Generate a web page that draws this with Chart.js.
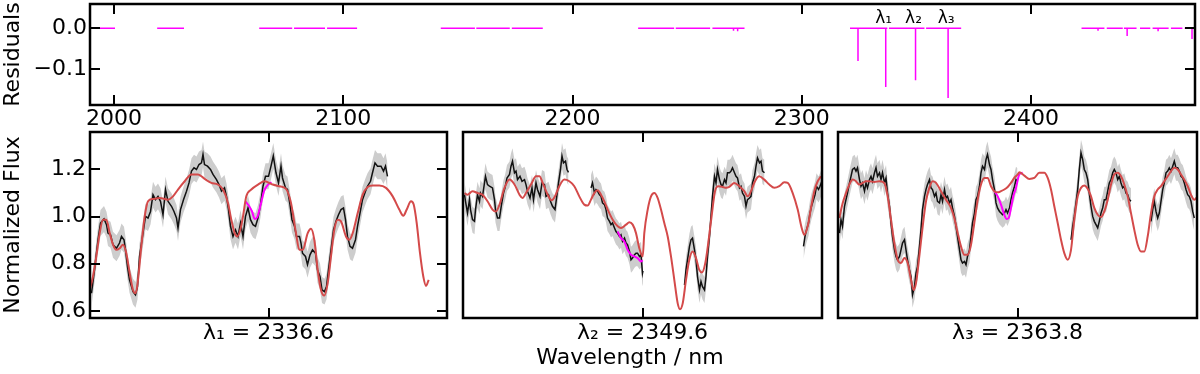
<!DOCTYPE html>
<html><head><meta charset="utf-8">
<script src="https://cdn.jsdelivr.net/npm/chart.js@4.4.1/dist/chart.umd.min.js"></script>
<style>
html,body{margin:0;padding:0;background:#fff;}
#wrap{position:relative;width:1200px;height:374px;overflow:hidden;background:#fff;}
canvas{position:absolute;}
#xl{position:absolute;left:530px;top:345px;width:200px;text-align:center;font-family:"DejaVu Sans";font-size:22px;line-height:24px;color:#000;white-space:nowrap;}
</style></head><body>
<div id="wrap">
<canvas id="cTop" width="1200" height="140" style="left:0;top:0"></canvas>
<canvas id="c1" width="460" height="249" style="left:0;top:125px"></canvas>
<canvas id="c2" width="375" height="249" style="left:455px;top:125px"></canvas>
<canvas id="c3" width="370" height="249" style="left:830px;top:125px"></canvas>
<div id="xl">Wavelength / nm</div>
</div>
<script>
// ---------------- data ----------------
const resTickX = [2000, 2100, 2200, 2300, 2400];
const resTickY = [0.0, -0.1];
const resTickYLabels = ['0.0', '\u22120.1'];
const fluxTickY = [0.6, 0.8, 1.0, 1.2];
const fluxTickYLabels = ['0.6', '0.8', '1.0', '1.2'];
const lineCentres = [2336.6, 2349.6, 2363.8];
const lineNames = ['λ₁', 'λ₂', 'λ₃'];
const panelTitles = ['λ₁ = 2336.6', 'λ₂ = 2349.6', 'λ₃ = 2363.8'];

// residual segments (nm) and spikes [wavelength, residual]
const resSegments = [
  [1989.5, 2000.4], [2018.8, 2030.5], [2063.3, 2077.7], [2078.5, 2092.0], [2092.9, 2106.0],
  [2142.5, 2157.4], [2158.0, 2172.6], [2173.5, 2187.0],
  [2228.6, 2244.3], [2245.0, 2260.0], [2261.0, 2275.0],
  [2321.0, 2337.3], [2338.0, 2353.5], [2354.2, 2369.5],
  [2422.0, 2432.0], [2433.0, 2440.0], [2440.5, 2446.0], [2447.5, 2452.0], [2453.0, 2460.0], [2461.0, 2466.0], [2467.0, 2471.5]
];
const resSpikes = [
  [2270.2, -0.006], [2272.0, -0.007],
  [2324.5, -0.080], [2336.6, -0.144], [2349.6, -0.127], [2363.8, -0.171],
  [2429.2, -0.006], [2441.9, -0.019], [2455.4, -0.007], [2470.2, -0.026]
];

// panel x values: offset from line centre (nm)
const fluxErr = [0.055, 0.055, 0.055];

const fluxObs1 = [[-1.77,0.675],[-1.74,0.774],[-1.705,0.902],[-1.68,0.973],[-1.645,0.990],[-1.62,0.966],[-1.605,0.930],[-1.58,0.923],[-1.555,0.881],[-1.52,0.866],[-1.49,0.888],[-1.47,0.916],[-1.445,0.902],[-1.43,0.859],[-1.41,0.788],[-1.39,0.732],[-1.355,0.682],[-1.33,0.668],[-1.31,0.703],[-1.29,0.831],[-1.26,0.916],[-1.23,1.001],[-1.205,0.994],[-1.18,1.022],[-1.155,1.093],[-1.13,1.072],[-1.105,1.086],[-1.08,1.065],[-1.055,1.008],[-1.03,1.115],[-1.005,1.065],[-0.97,1.044],[-0.945,1.022],[-0.92,0.994],[-0.905,0.952],[-0.88,1.030],[-0.85,1.072],[-0.82,1.108],[-0.795,1.143],[-0.77,1.193],[-0.745,1.207],[-0.72,1.200],[-0.695,1.221],[-0.67,1.228],[-0.655,1.264],[-0.64,1.221],[-0.61,1.214],[-0.58,1.200],[-0.555,1.179],[-0.52,1.157],[-0.495,1.136],[-0.47,1.108],[-0.44,1.122],[-0.42,1.086],[-0.40,1.030],[-0.38,0.959],[-0.355,0.916],[-0.33,0.944],[-0.305,0.916],[-0.28,0.973],[-0.255,0.916],[-0.23,1.001],[-0.205,1.037],[-0.18,0.987],[-0.155,0.966],[-0.13,0.959],[-0.105,0.994],[-0.08,1.051],[-0.055,1.129],[-0.03,1.171],[0.0,1.171],[0.025,1.214],[0.048,1.257],[0.075,1.186],[0.10,1.143],[0.125,1.214],[0.14,1.164],[0.17,1.122],[0.19,1.115],[0.215,1.051],[0.235,0.987],[0.26,0.959],[0.28,0.916],[0.31,0.916],[0.325,0.888],[0.34,0.845],[0.37,0.831],[0.39,0.796],[0.415,0.838],[0.44,0.859],[0.47,0.845],[0.49,0.774],[0.515,0.746],[0.535,0.689],[0.56,0.682],[0.58,0.703],[0.60,0.774],[0.625,0.859],[0.65,0.944],[0.675,0.980],[0.70,1.008],[0.725,1.030],[0.75,1.037],[0.77,0.987],[0.79,0.916],[0.815,0.874],[0.84,0.866],[0.87,0.902],[0.89,0.959],[0.915,1.015],[0.94,1.072],[0.97,1.108],[0.99,1.129],[1.02,1.150],[1.04,1.186],[1.065,1.228],[1.09,1.214],[1.125,1.214],[1.15,1.193],[1.17,1.214],[1.19,1.171]];
const fluxModel1 = [[-1.788,0.689],[-1.755,0.746],[-1.722,0.831],[-1.688,0.930],[-1.655,0.987],[-1.622,0.987],[-1.588,0.930],[-1.555,0.881],[-1.522,0.859],[-1.488,0.866],[-1.455,0.881],[-1.422,0.845],[-1.388,0.760],[-1.355,0.689],[-1.328,0.675],[-1.305,0.732],[-1.272,0.874],[-1.238,1.001],[-1.205,1.065],[-1.155,1.075],[-1.088,1.079],[-1.005,1.072],[-0.955,1.086],[-0.905,1.115],[-0.838,1.150],[-0.772,1.179],[-0.705,1.179],[-0.638,1.160],[-0.572,1.143],[-0.505,1.136],[-0.455,1.115],[-0.405,1.058],[-0.372,0.987],[-0.338,0.930],[-0.312,0.916],[-0.282,0.944],[-0.255,1.001],[-0.222,1.086],[-0.172,1.115],[-0.105,1.136],[-0.038,1.150],[0.042,1.136],[0.108,1.129],[0.175,1.118],[0.225,1.058],[0.275,0.930],[0.308,0.859],[0.342,0.859],[0.392,0.930],[0.425,0.949],[0.458,0.902],[0.492,0.774],[0.525,0.689],[0.558,0.665],[0.592,0.718],[0.625,0.831],[0.658,0.944],[0.692,0.987],[0.725,0.980],[0.775,0.916],[0.808,0.902],[0.842,0.930],[0.892,1.015],[0.942,1.093],[0.992,1.126],[1.042,1.132],[1.108,1.132],[1.175,1.122],[1.242,1.086],[1.308,1.030],[1.348,1.004],[1.382,1.030],[1.425,1.065],[1.452,1.051],[1.482,0.973],[1.515,0.845],[1.548,0.746],[1.575,0.706],[1.602,0.732]];
const fluxFit1 = [[-0.232,1.065],[-0.198,1.047],[-0.165,1.022],[-0.138,0.990],[-0.112,0.998],[-0.078,1.051],[-0.045,1.108],[-0.005,1.136],[0.03,1.146]];

const fluxObs2 = [[-1.78,1.093],[-1.77,1.065],[-1.75,1.015],[-1.73,1.072],[-1.72,1.030],[-1.70,0.987],[-1.68,0.980],[-1.67,1.030],[-1.65,1.093],[-1.63,1.065],[-1.62,1.100],[-1.60,1.086],[-1.58,1.143],[-1.57,1.171],[-1.55,1.136],[-1.53,1.129],[-1.50,1.122],[-1.48,1.072],[-1.47,1.030],[-1.45,0.994],[-1.43,0.994],[-1.41,1.051],[-1.39,1.100],[-1.375,1.122],[-1.355,1.164],[-1.33,1.179],[-1.315,1.214],[-1.30,1.235],[-1.28,1.186],[-1.265,1.193],[-1.25,1.157],[-1.225,1.171],[-1.205,1.150],[-1.18,1.157],[-1.165,1.136],[-1.15,1.108],[-1.125,1.079],[-1.105,1.122],[-1.09,1.072],[-1.065,1.143],[-1.05,1.115],[-1.025,1.086],[-1.005,1.143],[-0.98,1.136],[-0.965,1.086],[-0.94,1.093],[-0.92,1.065],[-0.90,1.044],[-0.875,1.030],[-0.855,1.093],[-0.84,1.143],[-0.82,1.200],[-0.805,1.257],[-0.79,1.228],[-0.77,1.235],[-0.755,1.200],[-0.74,1.188],null,
  [-0.515,1.122],[-0.50,1.143],[-0.48,1.100],[-0.465,1.115],[-0.45,1.108],[-0.43,1.093],[-0.415,1.086],[-0.40,1.058],[-0.38,1.051],[-0.365,1.030],[-0.35,0.994],[-0.33,0.980],[-0.315,0.966],[-0.30,0.973],[-0.28,0.952],[-0.265,0.937],[-0.25,0.930],[-0.23,0.916],[-0.215,0.923],[-0.20,0.895],[-0.18,0.909],[-0.165,0.888],[-0.15,0.881],[-0.13,0.852],[-0.115,0.817],[-0.10,0.824],[-0.08,0.838],[-0.065,0.845],[-0.05,0.845],[-0.03,0.831],[-0.015,0.838],[0.0,0.760],[0.005,0.770],null,
  [0.42,0.710],[0.435,0.774],[0.45,0.817],[0.47,0.874],[0.485,0.902],[0.50,0.909],[0.52,0.859],[0.535,0.817],[0.55,0.746],[0.57,0.689],[0.585,0.725],[0.60,0.703],[0.62,0.689],[0.635,0.746],[0.65,0.831],[0.67,0.916],[0.685,1.001],[0.70,1.086],[0.72,1.171],[0.735,1.143],[0.75,1.200],[0.77,1.157],[0.785,1.136],[0.80,1.129],[0.82,1.157],[0.835,1.143],[0.85,1.186],[0.87,1.186],[0.885,1.193],[0.90,1.207],[0.92,1.186],[0.935,1.171],[0.95,1.164],[0.97,1.122],[0.985,1.129],[1.00,1.100],[1.02,1.086],[1.035,1.044],[1.05,1.072],[1.07,1.079],[1.085,1.086],[1.10,1.143],[1.12,1.171],[1.135,1.214],[1.15,1.249],[1.17,1.228],[1.185,1.235],[1.20,1.193],[1.22,1.186],null,
  [1.61,0.874],[1.625,0.916],[1.64,0.944],[1.66,0.973],[1.675,1.015],[1.69,1.044],[1.71,1.072],[1.725,1.093],[1.74,1.129],[1.76,1.115],[1.775,1.129],[1.80,1.157]];
const fluxModel2 = [[-1.78,1.100],[-1.75,1.093],[-1.70,1.108],[-1.65,1.100],[-1.60,1.093],[-1.55,1.065],[-1.50,1.030],[-1.465,1.022],[-1.43,1.051],[-1.38,1.122],[-1.33,1.157],[-1.28,1.136],[-1.23,1.093],[-1.20,1.079],[-1.165,1.100],[-1.115,1.136],[-1.065,1.171],[-1.03,1.171],[-0.998,1.143],[-0.948,1.093],[-0.908,1.069],[-0.875,1.086],[-0.832,1.129],[-0.782,1.157],[-0.732,1.150],[-0.682,1.129],[-0.632,1.086],[-0.582,1.051],[-0.548,1.047],[-0.515,1.072],[-0.482,1.100],[-0.448,1.112],[-0.415,1.093],[-0.382,1.065],[-0.348,1.030],[-0.298,0.987],[-0.248,0.959],[-0.215,0.952],[-0.165,0.966],[-0.132,0.976],[-0.098,0.966],[-0.065,0.930],[-0.032,0.866],[0.002,0.831],[0.018,0.930],[0.052,1.030],[0.085,1.086],[0.118,1.100],[0.152,1.079],[0.185,1.030],[0.218,0.973],[0.252,0.916],[0.285,0.831],[0.318,0.732],[0.352,0.632],[0.375,0.607],[0.402,0.632],[0.435,0.732],[0.468,0.817],[0.502,0.852],[0.535,0.824],[0.568,0.774],[0.595,0.763],[0.628,0.803],[0.662,0.902],[0.695,1.015],[0.725,1.108],[0.758,1.129],[0.802,1.126],[0.835,1.122],[0.868,1.126],[0.918,1.143],[0.968,1.129],[1.018,1.108],[1.052,1.086],[1.085,1.108],[1.125,1.150],[1.168,1.171],[1.218,1.157],[1.268,1.136],[1.318,1.122],[1.368,1.129],[1.418,1.146],[1.452,1.143],[1.502,1.100],[1.552,1.030],[1.592,0.952],[1.618,0.923],[1.652,0.959],[1.685,1.037],[1.718,1.108],[1.752,1.150],[1.785,1.171]];
const fluxFit2 = [[-0.248,0.937],[-0.215,0.909],[-0.182,0.895],[-0.148,0.859],[-0.115,0.838],[-0.082,0.831],[-0.048,0.824],[-0.015,0.810],[0.002,0.815]];

const fluxObs3 = [[-1.78,0.930],[-1.765,0.987],[-1.75,0.959],[-1.73,1.044],[-1.715,1.072],[-1.70,1.100],[-1.68,1.143],[-1.665,1.171],[-1.65,1.200],[-1.63,1.207],[-1.615,1.193],[-1.60,1.207],[-1.58,1.157],[-1.565,1.129],[-1.55,1.143],[-1.53,1.108],[-1.515,1.143],[-1.50,1.122],[-1.48,1.157],[-1.465,1.171],[-1.45,1.150],[-1.43,1.186],[-1.415,1.207],[-1.40,1.171],[-1.38,1.186],[-1.365,1.157],[-1.35,1.186],[-1.33,1.143],[-1.315,1.164],[-1.30,1.100],[-1.28,1.044],[-1.265,0.973],[-1.25,0.916],[-1.23,0.859],[-1.215,0.831],[-1.20,0.817],[-1.18,0.831],[-1.165,0.859],[-1.15,0.888],[-1.13,0.902],[-1.115,0.859],[-1.10,0.817],[-1.08,0.774],[-1.065,0.746],[-1.05,0.668],[-1.03,0.703],[-1.015,0.760],[-1.00,0.788],[-0.98,0.874],[-0.965,0.944],[-0.95,1.030],[-0.93,1.086],[-0.915,1.115],[-0.90,1.136],[-0.88,1.157],[-0.865,1.122],[-0.85,1.115],[-0.83,1.086],[-0.815,1.100],[-0.80,1.065],[-0.78,1.058],[-0.765,1.093],[-0.75,1.065],[-0.73,1.115],[-0.715,1.079],[-0.70,1.086],[-0.68,1.058],[-0.665,1.072],[-0.65,1.037],[-0.63,1.001],[-0.615,0.959],[-0.60,0.916],[-0.58,0.859],[-0.565,0.817],[-0.55,0.803],[-0.53,0.810],[-0.515,0.796],[-0.50,0.831],[-0.48,0.859],[-0.465,0.916],[-0.45,0.973],[-0.43,1.015],[-0.415,1.072],[-0.40,1.086],[-0.38,1.129],[-0.365,1.186],[-0.35,1.214],[-0.33,1.200],[-0.315,1.242],[-0.30,1.264],[-0.28,1.221],[-0.265,1.200],[-0.25,1.157],[-0.23,1.115],[-0.215,1.058],[-0.20,1.037],[-0.18,1.022],[-0.165,1.015],[-0.15,1.008],[-0.13,1.015],[-0.115,1.030],[-0.10,1.015],[-0.08,1.037],[-0.065,1.072],[-0.05,1.100],[-0.03,1.129],[-0.015,1.157],[0.0,1.150],null,
  [0.535,0.902],[0.552,0.959],[0.568,1.001],[0.585,1.058],[0.602,1.115],[0.618,1.200],[0.635,1.271],[0.652,1.242],[0.668,1.200],[0.685,1.186],[0.702,1.157],[0.718,1.100],[0.735,1.044],[0.752,1.001],[0.768,0.980],[0.785,0.966],[0.802,0.952],[0.818,0.980],[0.835,1.015],[0.852,1.037],[0.868,1.072],[0.885,1.072],[0.902,1.108],[0.918,1.143],[0.935,1.157],[0.952,1.186],[0.968,1.200],[0.985,1.186],[1.002,1.157],[1.018,1.171],[1.035,1.143],[1.052,1.122],[1.068,1.129],[1.085,1.100],[1.102,1.093],[1.118,1.072],[1.135,1.065],null,
  [1.335,0.980],[1.352,1.030],[1.368,1.065],[1.385,1.022],[1.402,0.994],[1.418,1.015],[1.435,1.065],[1.452,1.115],[1.468,1.143],[1.485,1.186],[1.502,1.193],[1.518,1.207],[1.535,1.193],[1.552,1.214],[1.568,1.235],[1.585,1.207],[1.602,1.207],[1.618,1.193],[1.635,1.171],[1.652,1.164],[1.668,1.143],[1.685,1.115],[1.702,1.093],[1.718,1.086],[1.735,1.065],[1.752,1.022],[1.768,0.994]];
const fluxModel3 = [[-1.782,0.994],[-1.748,1.058],[-1.715,1.100],[-1.682,1.136],[-1.648,1.157],[-1.615,1.150],[-1.582,1.136],[-1.548,1.143],[-1.515,1.150],[-1.482,1.150],[-1.432,1.147],[-1.382,1.150],[-1.332,1.143],[-1.298,1.086],[-1.265,0.987],[-1.232,0.888],[-1.198,0.817],[-1.165,0.803],[-1.132,0.824],[-1.098,0.803],[-1.065,0.732],[-1.038,0.689],[-1.015,0.718],[-0.982,0.831],[-0.948,0.959],[-0.915,1.065],[-0.882,1.122],[-0.848,1.150],[-0.815,1.143],[-0.765,1.108],[-0.715,1.072],[-0.665,1.037],[-0.632,0.994],[-0.598,0.930],[-0.565,0.874],[-0.532,0.838],[-0.498,0.838],[-0.465,0.881],[-0.432,0.973],[-0.398,1.072],[-0.365,1.136],[-0.332,1.164],[-0.298,1.164],[-0.265,1.129],[-0.232,1.108],[-0.198,1.103],[-0.165,1.108],[-0.132,1.115],[-0.098,1.126],[-0.065,1.143],[-0.032,1.164],[0.002,1.179],[0.018,1.188],[0.068,1.174],[0.118,1.160],[0.168,1.164],[0.218,1.186],[0.268,1.186],[0.302,1.164],[0.335,1.115],[0.368,1.044],[0.402,0.973],[0.435,0.902],[0.468,0.845],[0.502,0.817],[0.535,0.859],[0.568,0.987],[0.602,1.086],[0.635,1.122],[0.668,1.132],[0.702,1.118],[0.735,1.086],[0.768,1.037],[0.802,1.008],[0.835,0.998],[0.868,1.022],[0.902,1.072],[0.935,1.136],[0.968,1.179],[1.002,1.186],[1.035,1.171],[1.068,1.136],[1.102,1.086],[1.135,1.015],[1.168,0.944],[1.202,0.881],[1.235,0.852],[1.268,0.852],[1.302,0.916],[1.335,1.015],[1.368,1.086],[1.402,1.115],[1.435,1.129],[1.468,1.150],[1.502,1.171],[1.535,1.193],[1.568,1.207],[1.602,1.200],[1.635,1.179],[1.668,1.157],[1.702,1.129],[1.735,1.093],[1.768,1.072],[1.802,1.086]];
const fluxFit3 = [[-0.232,1.108],[-0.198,1.086],[-0.165,1.051],[-0.132,1.008],[-0.108,0.990],[-0.088,0.994],[-0.065,1.037],[-0.042,1.086],[-0.015,1.122],[0.018,1.179],[0.052,1.186]];

// ---------------- helpers ----------------
Chart.defaults.font.family = '"DejaVu Sans"';
Chart.defaults.color = '#000';
const RED = '#d44a4a', MAG = '#ff00ff', GREY = 'rgb(205,205,205)', BLK = '#111';
const FS = 22;

function pts(arr) {
  const out = []; let lastX = 0;
  for (const p of arr) {
    if (p) { out.push({x: p[0], y: p[1]}); lastX = p[0]; }
    else out.push({x: lastX + 1e-6, y: null});
  }
  return out;
}
function band(arr, err, sign) { return arr.map(p => p ? [p[0], p[1] + sign * err] : null); }
function residualPoints() {
  const out = [];
  for (const [a, b] of resSegments) {
    out.push([a, 0]);
    for (const [x, d] of resSpikes) if (x > a && x < b) { out.push([x, 0], [x, d], [x, 0]); }
    out.push([b, 0]); out.push(null);
  }
  return out;
}
function noPad(s) { s.paddingTop = 0; s.paddingBottom = 0; s.paddingLeft = 0; s.paddingRight = 0; }

const framePlugin = {
  id: 'frame',
  afterDatasetsDraw(chart, args, o) {
    const {ctx, chartArea: a, scales} = chart;
    ctx.save();
    ctx.strokeStyle = '#000'; ctx.lineWidth = 2;
    const L = 10;
    ctx.beginPath();
    (o.xTicks || []).forEach(v => {
      const x = Math.round(scales.x.getPixelForValue(v));
      ctx.moveTo(x, a.top); ctx.lineTo(x, a.top + L);
      ctx.moveTo(x, a.bottom); ctx.lineTo(x, a.bottom - L);
    });
    (o.yTicks || []).forEach(v => {
      const y = Math.round(scales.y.getPixelForValue(v));
      ctx.moveTo(a.left, y); ctx.lineTo(a.left + L, y);
      ctx.moveTo(a.right, y); ctx.lineTo(a.right - L, y);
    });
    ctx.stroke();
    ctx.lineWidth = 2.5;
    ctx.strokeRect(a.left, a.top, a.right - a.left, a.bottom - a.top);
    (o.labels || []).forEach(l => {
      ctx.font = '17px "DejaVu Sans"'; ctx.fillStyle = '#000';
      ctx.textAlign = 'center'; ctx.textBaseline = 'alphabetic';
      ctx.fillText(l.text, scales.x.getPixelForValue(l.x) - 2, scales.y.getPixelForValue(0) - 5);
    });
    ctx.restore();
  }
};

// ---------------- residual panel ----------------
new Chart(document.getElementById('cTop'), {
  type: 'line',
  data: {datasets: [{data: pts(residualPoints()), borderColor: MAG, borderWidth: 1.5, pointRadius: 0, tension: 0, spanGaps: false}]},
  options: {
    responsive: false, animation: false, events: [],
    layout: {padding: {left: 0, right: 5, top: 4, bottom: 0}},
    plugins: {legend: {display: false}, tooltip: {enabled: false},
      frame: {xTicks: resTickX, yTicks: resTickY, labels: lineCentres.map((c, i) => ({x: c, text: lineNames[i]}))}},
    scales: {
      x: {type: 'linear', min: 1989.5, max: 2471.5, grid: {display: false, drawTicks: false}, border: {display: false},
        afterBuildTicks: s => { s.ticks = resTickX.map(v => ({value: v})); },
        ticks: {font: {size: FS}, padding: 1, maxRotation: 0, minRotation: 0, autoSkip: false, callback: v => String(v)},
        afterFit: s => { s.height = 35; noPad(s); }},
      y: {type: 'linear', min: -0.188, max: 0.0597, grid: {display: false, drawTicks: false}, border: {display: false},
        afterBuildTicks: s => { s.ticks = resTickY.map(v => ({value: v})); },
        ticks: {font: {size: FS}, padding: 3, callback: (v, i) => resTickYLabels[i]},
        title: {display: true, text: 'Residuals', font: {size: FS}, padding: {top: 0, bottom: 0}},
        afterFit: s => { s.width = 90; noPad(s); }}
    }
  },
  plugins: [framePlugin]
});

// ---------------- zoom panels ----------------
function makePanel(id, obs, model, fit, err, title, half, showY, pad) {
  const datasets = [
    {data: pts(model), borderColor: RED, borderWidth: 2, pointRadius: 0, cubicInterpolationMode: 'monotone', fill: false},
    {data: pts(fit), borderColor: MAG, borderWidth: 2, pointRadius: 0, cubicInterpolationMode: 'monotone', fill: false},
    {data: pts(obs), borderColor: BLK, borderWidth: 1.5, pointRadius: 0, tension: 0, fill: false},
    {data: pts(band(obs, err, 1)), borderColor: 'rgba(0,0,0,0)', borderWidth: 0, pointRadius: 0, fill: '+1', backgroundColor: GREY},
    {data: pts(band(obs, err, -1)), borderColor: 'rgba(0,0,0,0)', borderWidth: 0, pointRadius: 0, fill: false}
  ];
  new Chart(document.getElementById(id), {
    type: 'line',
    data: {datasets},
    options: {
      responsive: false, animation: false, events: [],
      layout: {padding: pad},
      plugins: {legend: {display: false}, tooltip: {enabled: false},
        frame: {xTicks: [0], yTicks: showY ? fluxTickY : []}},
      scales: {
        x: {type: 'linear', min: -half, max: half, grid: {display: false, drawTicks: false}, border: {display: false},
          ticks: {display: false},
          title: {display: true, text: title, font: {size: FS}, padding: {top: 0, bottom: 28}},
          afterFit: s => { s.height = 56; noPad(s); }},
        y: {type: 'linear', min: 0.570, max: 1.359, display: showY, grid: {display: false, drawTicks: false}, border: {display: false},
          afterBuildTicks: s => { s.ticks = fluxTickY.map(v => ({value: v})); },
          ticks: {font: {size: FS}, padding: 4, callback: (v, i) => fluxTickYLabels[i]},
          title: {display: showY, text: 'Normalized Flux', font: {size: FS}, padding: {top: 0, bottom: 0}},
          afterFit: s => { s.width = showY ? 90 : 0; noPad(s); }}
      }
    },
    plugins: [framePlugin]
  });
}
makePanel('c1', fluxObs1, fluxModel1, fluxFit1, fluxErr[0], panelTitles[0], 1.785, true, {left: 0, right: 13, top: 7, bottom: 0});
makePanel('c2', fluxObs2, fluxModel2, fluxFit2, fluxErr[1], panelTitles[1], 1.795, false, {left: 8, right: 8, top: 7, bottom: 0});
makePanel('c3', fluxObs3, fluxModel3, fluxFit3, fluxErr[2], panelTitles[2], 1.795, false, {left: 8, right: 3, top: 7, bottom: 0});
</script>
</body></html>
